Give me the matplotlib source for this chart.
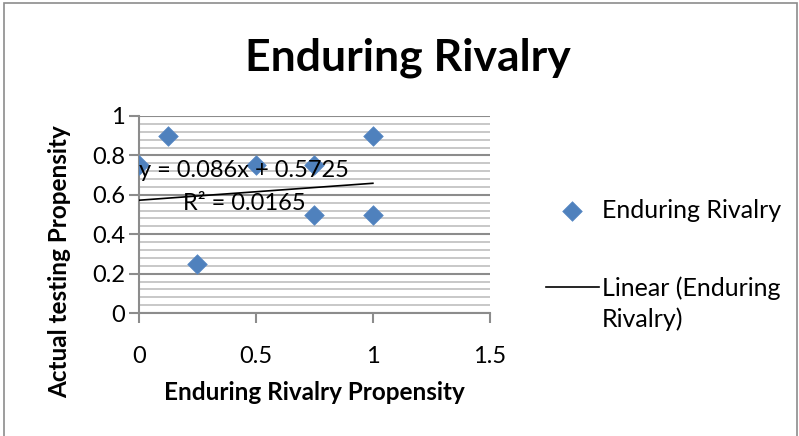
import matplotlib.pyplot as plt
from matplotlib.patches import Rectangle
from matplotlib.ticker import MultipleLocator
from matplotlib.legend_handler import HandlerLine2D
import numpy as np

# data
x_vals = [0, 0.125, 0.25, 0.5, 0.75, 0.75, 1, 1]
y_vals = [0.75, 0.9, 0.25, 0.75, 0.75, 0.5, 0.9, 0.5]
slope = 0.086
intercept = 0.5725
r_squared = 0.0165
x_ticks = [0, 0.5, 1, 1.5]
y_ticks = [0, 0.2, 0.4, 0.6, 0.8, 1]

FS = 17

plt.rcParams['font.family'] = ['Lato', 'DejaVu Sans']


class FirstLineHandler(HandlerLine2D):
    # put the legend line next to the first line of a two-line label
    def create_artists(self, legend, orig_handle, xdescent, ydescent,
                       width, height, fontsize, trans):
        arts = super().create_artists(legend, orig_handle, xdescent, ydescent,
                                      width, height, fontsize, trans)
        for a in arts:
            a.set_ydata(np.asarray(a.get_ydata()) + 0.68 * fontsize)
        return arts


fig = plt.figure(figsize=(7.99, 4.36), dpi=100)
ax = fig.add_axes([0.174, 0.282, 0.439, 0.452])

ax.scatter(x_vals, y_vals, marker='D', s=100, color='#4F81BD',
           edgecolor='#5A8AC6', linewidth=0.5, zorder=3, label='Enduring Rivalry')

xs = np.array([min(x_vals), max(x_vals)])
trend, = ax.plot(xs, slope * xs + intercept, color='black', lw=1.2, zorder=4,
                 label='Linear (Enduring\nRivalry)')

ax.text(0.45, 0.639, f"y = {slope}x + {intercept}\nR² = {r_squared}",
        ha='center', va='center', fontsize=FS, linespacing=1.7, zorder=5)

ax.set_xlim(0, 1.5)
ax.set_ylim(0, 1)
ax.set_xticks(x_ticks)
ax.set_xticklabels(['0', '0.5', '1', '1.5'])
ax.set_yticks(y_ticks)
ax.set_yticklabels(['0', '0.2', '0.4', '0.6', '0.8', '1'])
ax.yaxis.set_minor_locator(MultipleLocator(0.04))

ax.grid(axis='y', which='major', color='#8c8c8c', lw=1.5)
ax.grid(axis='y', which='minor', color='#c4c4c4', lw=1.3)
ax.set_axisbelow(True)

for side in ['top', 'right']:
    ax.spines[side].set_visible(False)
for side in ['left', 'bottom']:
    ax.spines[side].set_color('#8c8c8c')
    ax.spines[side].set_linewidth(1.5)
ax.tick_params(axis='both', which='major', direction='out', length=7,
               color='#8c8c8c', width=1.5, labelsize=FS)
ax.tick_params(axis='x', pad=17)
ax.tick_params(axis='y', pad=3)
ax.tick_params(axis='y', which='minor', length=0)

ax.set_xlabel('Enduring Rivalry Propensity', fontsize=17.5, fontweight='bold', labelpad=10)
ax.set_ylabel('Actual testing Propensity', fontsize=17.5, fontweight='bold')
ax.yaxis.set_label_coords(-0.194, 0.26)
fig.suptitle('Enduring Rivalry', x=0.51, y=0.914, fontsize=32, fontweight='bold')

leg = ax.legend(loc='upper left', bbox_to_anchor=(1.095, 0.695), frameon=False,
                fontsize=18, handlelength=2.15, labelspacing=2.2, handletextpad=0.1,
                handler_map={trend: FirstLineHandler()})
for t in leg.get_texts():
    t.set_linespacing(1.35)

fig.add_artist(Rectangle((4 / 799, -0.05), 793 / 799, 1.05 - 3 / 436,
                         transform=fig.transFigure, fill=False,
                         edgecolor='#8c8c8c', lw=1.2))

fig.savefig('out.png', dpi=100)
